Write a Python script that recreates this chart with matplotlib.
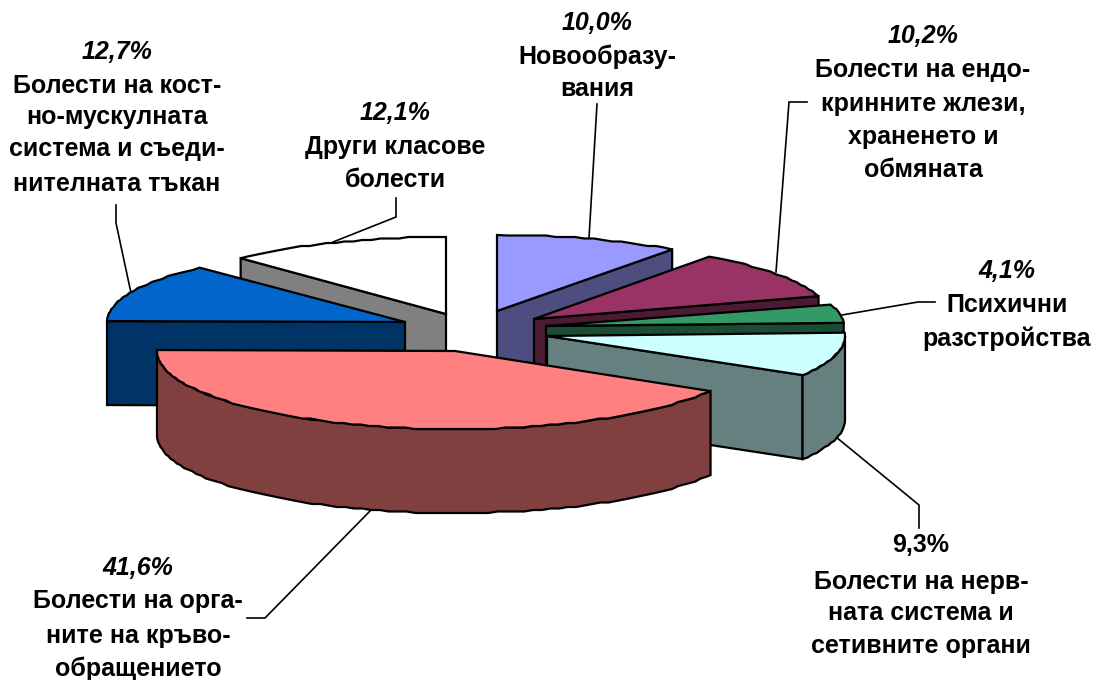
import numpy as np
import matplotlib
matplotlib.use('Agg')
import matplotlib.pyplot as plt
from matplotlib.patches import Polygon

plt.rcParams['font.family'] = ['Liberation Sans', 'DejaVu Sans']

# values go clockwise from 12 o'clock
values = [10.0, 10.2, 4.1, 9.3, 41.6, 12.7, 12.1]
pct_labels = ['10,0%', '10,2%', '4,1%', '9,3%', '41,6%', '12,7%', '12,1%']
names = [
    ['Новообразу-', 'вания'],
    ['Болести на ендо-', 'кринните жлези,', 'храненето и', 'обмяната'],
    ['Психични', 'разстройства'],
    ['Болести на нерв-', 'ната система и', 'сетивните органи'],
    ['Болести на орга-', 'ните на кръво-', 'обращението'],
    ['Болести на кост-', 'но-мускулната', 'система и съеди-', 'нителната тъкан'],
    ['Други класове', 'болести'],
]

top_colors = ['#9999FF', '#993366', '#339966', '#CCFFFF', '#FF8080', '#0066CC', '#FFFFFF']
wall_colors = ['#4D4D80', '#4D1A33', '#1A4D33', '#668080', '#804040', '#003366', '#808080']

# layout of the exploded slices, in pixels
apex_x = [497, 534, 546, 547, 455, 405, 446]
apex_y = [311, 319, 326, 336, 351, 322, 314]
radius_y = [76, 77, 72, 76, 78, 75, 77]
radius_x = 298
depth = 84
draw_order = [6, 5, 0, 1, 2, 3, 4]

label_x = [597, 923, 1007, 921, 138, 117, 395]
label_y = [
    [23, 57, 89],
    [36, 70, 104, 137, 170],
    [271, 305, 339],
    [545, 582, 613, 646],
    [568, 601, 636, 669],
    [52, 86, 117, 149, 184],
    [113, 147, 180],
]
leaders = [
    [(589, 238), (597, 104)],
    [(776, 272), (789, 102), (807, 102)],
    [(842, 315), (918, 302), (935, 302)],
    [(836, 437), (919, 505), (919, 528)],
    [(371, 510), (265, 618), (247, 618)],
    [(131, 293), (116, 223), (116, 205)],
    [(333, 242), (396, 217), (396, 198)],
]

fig = plt.figure(figsize=(10.97, 6.8), dpi=100)
ax = fig.add_axes([0, 0, 1, 1])
ax.set_xlim(0, 1097)
ax.set_ylim(680, 0)
ax.axis('off')

edges = np.cumsum([0] + values) / sum(values) * 2 * np.pi
LW = 1.6


def arc_points(i, a, b):
    n = max(4, int((b - a) * radius_x / 9))
    t = np.linspace(a, b, n)
    x = apex_x[i] + radius_x * np.sin(t)
    y = apex_y[i] - radius_y[i] * np.cos(t)
    # the original outline is a slightly wobbly polyline
    y[1:-1] = np.round(y[1:-1] / 1.5) * 1.5
    return np.column_stack([x, y])


def face(points, color, z):
    ax.add_patch(Polygon(points, closed=True, facecolor=color, edgecolor='black',
                         lw=LW, joinstyle='miter', zorder=z))


for pts in leaders:
    xs, ys = zip(*pts)
    ax.plot(xs, ys, color='black', lw=1.2, zorder=1, solid_joinstyle='miter')

z = 2
for i in draw_order:
    a, b = edges[i], edges[i + 1]
    apex = np.array([apex_x[i], apex_y[i]], dtype=float)
    down = np.array([0, depth])
    arc = arc_points(i, a, b)

    # radial faces that look towards the viewer
    if np.sin(a) < -0.01:
        face([apex, arc[0], arc[0] + down, apex + down], wall_colors[i], z)
    if np.sin(b) > 0.01:
        face([apex, arc[-1], arc[-1] + down, apex + down], wall_colors[i], z)

    # outer wall, only the part on the front half of the ellipse
    lo, hi = max(a, np.pi / 2), min(b, 3 * np.pi / 2)
    if hi > lo:
        front = arc_points(i, lo, hi)
        face(np.vstack([front, (front + down)[::-1]]), wall_colors[i], z)

    face(np.vstack([[apex], arc]), top_colors[i], z + 0.5)
    z += 1

for i in range(len(values)):
    style = 'normal' if pct_labels[i] == '9,3%' else 'italic'
    ax.text(label_x[i], label_y[i][0], pct_labels[i], ha='center', va='center',
            fontsize=18, fontweight='bold', fontstyle=style, zorder=20)
    for line, y in zip(names[i], label_y[i][1:]):
        ax.text(label_x[i], y, line, ha='center', va='center',
                fontsize=18, fontweight='bold', zorder=20)

fig.savefig('out.png', dpi=100)
